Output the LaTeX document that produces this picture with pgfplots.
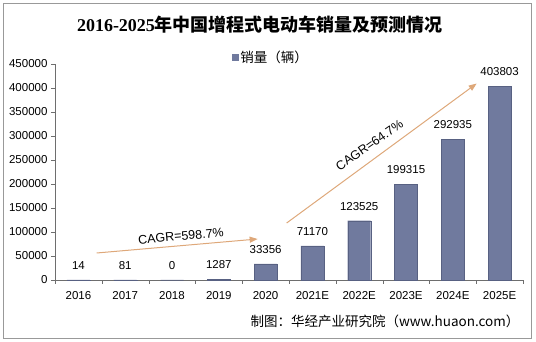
\documentclass[border=0pt]{standalone}
\usepackage{fontspec}
\setmainfont{Liberation Sans}
\newfontfamily\cjk{Noto Sans CJK SC}
\newfontfamily\titleserif{Liberation Serif}
\usepackage{pgfplots}
\pgfplotsset{compat=1.18}
\usetikzlibrary{arrows.meta}
\definecolor{barfill}{RGB}{112,122,158}
\definecolor{baredge}{RGB}{88,97,130}
\definecolor{arrowc}{RGB}{222,168,122}
\definecolor{axisgray}{RGB}{110,110,110}
\begin{document}
\begin{tikzpicture}
\path[use as bounding box] (0pt,0pt) rectangle (536pt,342pt);
\draw[gray!80, line width=0.8pt] (3.5pt,3.5pt) rectangle (531.5pt,338.5pt);
\node[font=\bfseries\fontsize{18}{20}\selectfont] at (260pt,317pt) {{\titleserif 2016-2025}{\cjk 年中国增程式电动车销量及预测情况}};
\begin{axis}[at={(55pt,62pt)}, anchor=south west, scale only axis, width=468pt, height=216pt,
 xmin=-0.5, xmax=9.5, ymin=0, ymax=450000,
 axis x line*=bottom, axis y line*=left, axis line style={axisgray, -},
 xtick={0,...,9}, xticklabels={2016,2017,2018,2019,2020,2021E,2022E,2023E,2024E,2025E},
 major x tick style={draw=none},
 minor xtick={-0.5,0.5,...,9.5},
 ytick={0,50000,100000,150000,200000,250000,300000,350000,400000,450000},
 yticklabels={0,50000,100000,150000,200000,250000,300000,350000,400000,450000},
 tick align=outside, major tick length=4pt, minor tick length=4pt,
 tick style={axisgray},
 scaled y ticks=false,
 tick label style={font=\fontsize{11.5}{13}\selectfont, black},
 xticklabel style={yshift=-4pt},
 legend style={at={(0.4615,1.032)}, anchor=center, draw=none, fill=none, font=\fontsize{13.5}{15}\selectfont},
 clip=false,
]
\addplot[ybar, bar width=23pt, fill=barfill, draw=baredge,
  legend image code/.code={\fill[barfill] (0pt,-3pt) rectangle (6pt,3pt);},
  point meta=explicit symbolic, nodes near coords={\pgfplotspointmeta},
  every node near coord/.append style={font=\fontsize{11.5}{13}\selectfont, black, yshift=7pt}]
 coordinates {(0,14)[14] (1,81)[81] (2,0)[0] (3,1287)[1287] (4,33356)[33356] (5,71170)[71170] (6,123525)[123525] (7,199315)[199315] (8,292935)[292935] (9,403803)[403803]};
\addlegendentry{\cjk 销量（辆）}
\draw[arrowc, line width=1pt, -{Triangle[length=8pt,width=6pt]}] (axis cs:0.39,56250) -- (axis cs:3.83,85400);
\node[rotate=5, font=\fontsize{12.5}{14}\selectfont] at (axis cs:2.19,91700) {CAGR=598.7\%};
\draw[arrowc, line width=1pt, -{Triangle[length=8pt,width=6pt]}] (axis cs:4.45,118750) -- (axis cs:8.51,409400);
\node[rotate=35, font=\fontsize{12.5}{14}\selectfont] at (axis cs:6.22,281250) {CAGR=64.7\%};
\end{axis}
\node[anchor=west, font=\cjk\fontsize{13.5}{15}\selectfont] at (247pt,21pt) {制图：华经产业研究院（www.huaon.com）};
\end{tikzpicture}
\end{document}
